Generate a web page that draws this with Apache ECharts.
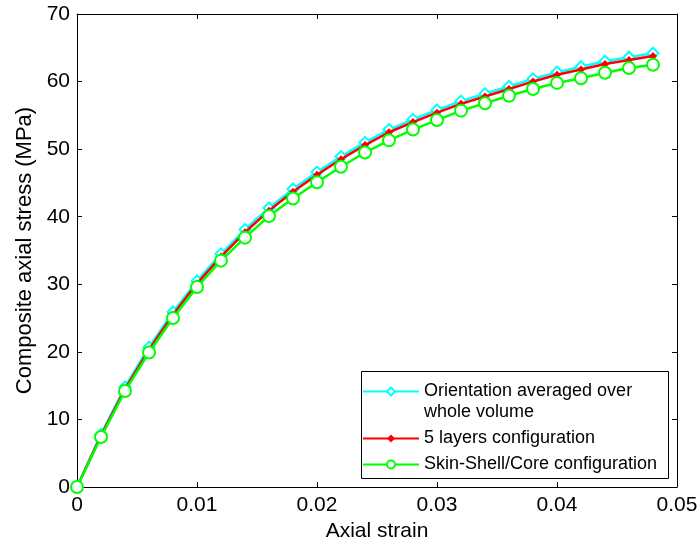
<!DOCTYPE html>
<html>
<head>
<meta charset="utf-8">
<script src="https://cdn.jsdelivr.net/npm/echarts@6/dist/echarts.min.js"></script>
<style>
html,body{margin:0;padding:0;background:#fff;}
#chart{width:699px;height:545px;}
</style>
</head>
<body>
<div id="chart"></div>
<script>
const strain = [0,0.002,0.004,0.006,0.008,0.010,0.012,0.014,0.016,0.018,0.020,0.022,0.024,0.026,0.028,0.030,0.032,0.034,0.036,0.038,0.040,0.042,0.044,0.046,0.048];
const orientationAvg = [0,7.8,14.8,20.7,25.9,30.5,34.5,38.1,41.3,44.1,46.6,48.9,51.0,52.9,54.4,55.8,57.1,58.2,59.3,60.4,61.4,62.2,63.0,63.6,64.2];
const fiveLayers = [0,7.6,14.5,20.3,25.5,30.1,34.1,37.7,40.9,43.7,46.2,48.5,50.6,52.5,54.0,55.4,56.7,57.8,58.9,60.0,61.0,61.8,62.6,63.2,63.8];
const skinShellCore = [0,7.4,14.2,19.9,25.0,29.6,33.5,36.9,40.1,42.7,45.1,47.4,49.5,51.3,52.9,54.3,55.7,56.8,57.9,58.9,59.8,60.5,61.3,62.0,62.5];
const seriesNames = ['Orientation averaged over\nwhole volume','5 layers configuration','Skin-Shell/Core configuration'];
const xTicks = ['0','0.01','0.02','0.03','0.04','0.05'];
const yTicks = ['0','10','20','30','40','50','60','70'];

const font = 'Liberation Sans, Arial, sans-serif';
const pair = (xs, ys) => xs.map((x, i) => [x, ys[i]]);

const chart = echarts.init(document.getElementById('chart'), null, {renderer:'canvas'});
const axisCommon = {
  axisLine:{show:true, onZero:false, lineStyle:{color:'#000', width:1}},
  axisTick:{show:true, inside:true, length:5, lineStyle:{color:'#000'}},
  splitLine:{show:false}
};
chart.setOption({
  animation:false,
  backgroundColor:'#fff',
  grid:{left:77, top:14, right:22, bottom:58, containLabel:false, outerBoundsMode:'none'},
  xAxis:[
    Object.assign({type:'value', min:0, max:0.05, interval:0.01, position:'bottom',
      name:'Axial strain', nameLocation:'middle', nameGap:33,
      nameTextStyle:{fontFamily:font, fontSize:21, color:'#000'},
      axisLabel:{fontFamily:font, fontSize:21, color:'#000', margin:8,
        formatter:(v)=>xTicks[Math.round(v/0.01)]}}, axisCommon),
    Object.assign({type:'value', min:0, max:0.05, interval:0.01, position:'top',
      axisLabel:{show:false}}, axisCommon)
  ],
  yAxis:[
    Object.assign({type:'value', min:0, max:70, interval:10, position:'left',
      name:'Composite axial stress (MPa)', nameLocation:'middle', nameGap:41,
      nameTextStyle:{fontFamily:font, fontSize:22, color:'#000'},
      axisLabel:{fontFamily:font, fontSize:21, color:'#000', margin:7,
        formatter:(v)=>yTicks[Math.round(v/10)]}}, axisCommon),
    Object.assign({type:'value', min:0, max:70, interval:10, position:'right',
      axisLabel:{show:false}}, axisCommon)
  ],
  graphic:[{
    type:'rect', left:361, top:371, z:5,
    shape:{width:307, height:107},
    style:{fill:'#fff', stroke:'#000', lineWidth:1}
  }],
  legend:{
    orient:'vertical', left:362, top:360, z:6,
    padding:0, itemGap:5, itemWidth:56, itemHeight:10,
    textStyle:{fontFamily:font, fontSize:18, color:'#000', lineHeight:21},
    formatter:(name)=> name === seriesNames[0] ? '\n' + name : name,
    data:seriesNames
  },
  series:[
    {name:seriesNames[0], type:'line', data:pair(strain, orientationAvg),
      symbol:'emptyDiamond', symbolSize:11, showAllSymbol:true,
      lineStyle:{color:'#00ffff', width:2.5}, itemStyle:{color:'#00ffff', borderWidth:2}, z:2},
    {name:seriesNames[1], type:'line', data:pair(strain, fiveLayers),
      symbol:'diamond', symbolSize:8, showAllSymbol:true,
      lineStyle:{color:'#ff0000', width:2.5}, itemStyle:{color:'#ff0000'}, z:3},
    {name:seriesNames[2], type:'line', data:pair(strain, skinShellCore),
      symbol:'emptyCircle', symbolSize:12, showAllSymbol:true,
      lineStyle:{color:'#00ff00', width:2.5}, itemStyle:{color:'#00ff00', borderWidth:2.5}, z:4}
  ]
});
</script>
</body>
</html>
